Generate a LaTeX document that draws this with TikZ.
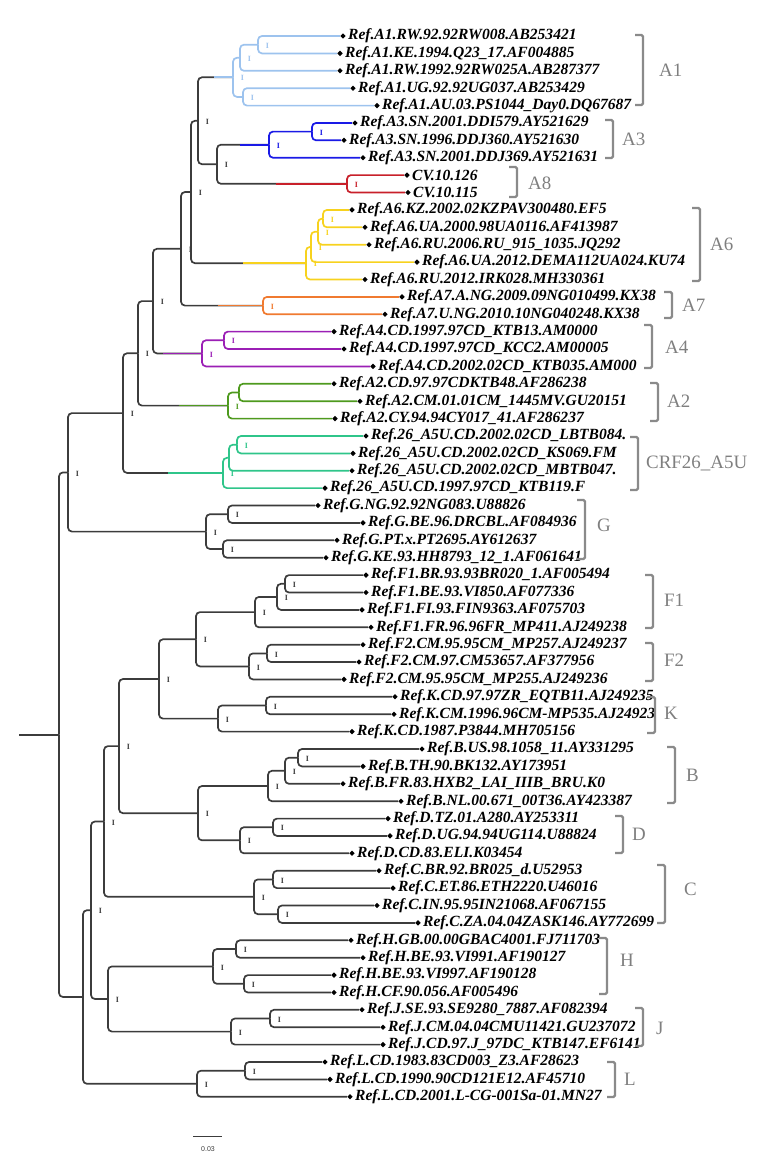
\documentclass[tikz,border=0pt]{standalone}
\usepackage{fontspec}
\setmainfont{Liberation Serif}
\newfontfamily\leaffont{Liberation Serif}
\newfontfamily\sbfont{Liberation Sans}
\usetikzlibrary{shapes.geometric,calc}
\definecolor{tgray}{HTML}{3C3C3C}
\definecolor{lgray}{HTML}{7F7F7F}
\definecolor{bgray}{HTML}{8A8A8A}
\definecolor{cA1}{HTML}{9DC3EE}
\definecolor{cA3}{HTML}{1A1AE6}
\definecolor{cA8}{HTML}{C8202A}
\definecolor{cA6}{HTML}{F7D21E}
\definecolor{cA7}{HTML}{F07A30}
\definecolor{cA4}{HTML}{9B1FB5}
\definecolor{cA2}{HTML}{4E9A1E}
\definecolor{cC26}{HTML}{2FC58A}
\tikzset{
 branch/.style={line width=1.7bp, rounded corners=4bp, draw=#1},
 branch/.default=tgray,
 leafdot/.style={diamond, fill=black, draw=none, inner sep=0pt, minimum size=5.5bp},
 leaflab/.style={anchor=west, inner sep=0pt, font=\leaffont\bfseries\itshape\fontsize{15.6}{16}\selectfont},
 cladelab/.style={anchor=west, inner sep=0pt, text=lgray, font=\fontsize{19}{19}\selectfont},
 boot/.style={inner sep=0pt, font=\bfseries\fontsize{8}{8}\selectfont, text=#1},
 boot/.default=tgray,
 bracket/.style={draw=bgray, line width=2.4bp, rounded corners=1.5bp},
}
\newcommand\lf[4]{\node[leafdot] (#1) at (#2,#3) {}; \node[leaflab] (#1t) at ([xshift=2bp]#1.east) {#4};}
\newcommand\ed[3][tgray]{\draw[branch=#1] (#2) |- (#3);}
\newcommand\stem[4][0.45]{\draw[branch] (#2) |- (#3); \coordinate (#2#3m) at ($(#2)!#1!(#3)$); \draw[branch=#4] (#2#3m |- #3) -- (#3);}
\newcommand\bs[2][tgray]{\node[boot=#1] (b#2) at ([xshift=9.5bp,yshift=-1bp]#2) {I};}
\newcommand\brk[7]{\draw[bracket] (#1-8,#2) -- (#1,#2) -- (#1,#3) -- (#1-8,#3); \node[cladelab] (#6) at (#4,#5) {#7};}
\begin{document}
\begin{tikzpicture}[x=1bp,y=-1bp]
\useasboundingbox (0,0) rectangle (772,1159);
% ---------- leaves
\lf{L1}{343}{36.0}{Ref.A1.RW.92.92RW008.AB253421}
\lf{L2}{340}{53.4}{Ref.A1.KE.1994.Q23\_17.AF004885}
\lf{L3}{340}{70.8}{Ref.A1.RW.1992.92RW025A.AB287377}
\lf{L4}{353}{88.2}{Ref.A1.UG.92.92UG037.AB253429}
\lf{L5}{377}{105.6}{Ref.A1.AU.03.PS1044\_Day0.DQ67687}
\lf{L6}{355}{123.0}{Ref.A3.SN.2001.DDI579.AY521629}
\lf{L7}{344}{140.3}{Ref.A3.SN.1996.DDJ360.AY521630}
\lf{L8}{363}{157.7}{Ref.A3.SN.2001.DDJ369.AY521631}
\lf{L9}{407}{175.1}{CV.10.126}
\lf{L10}{408}{192.5}{CV.10.115}
\lf{L11}{352}{209.9}{Ref.A6.KZ.2002.02KZPAV300480.EF5}
\lf{L12}{365}{227.3}{Ref.A6.UA.2000.98UA0116.AF413987}
\lf{L13}{369}{244.7}{Ref.A6.RU.2006.RU\_915\_1035.JQ292}
\lf{L14}{417}{262.1}{Ref.A6.UA.2012.DEMA112UA024.KU74}
\lf{L15}{365}{279.5}{Ref.A6.RU.2012.IRK028.MH330361}
\lf{L16}{402}{296.9}{Ref.A7.A.NG.2009.09NG010499.KX38}
\lf{L17}{385}{314.2}{Ref.A7.U.NG.2010.10NG040248.KX38}
\lf{L18}{334}{331.6}{Ref.A4.CD.1997.97CD\_KTB13.AM0000}
\lf{L19}{344}{349.0}{Ref.A4.CD.1997.97CD\_KCC2.AM00005}
\lf{L20}{373}{366.4}{Ref.A4.CD.2002.02CD\_KTB035.AM000}
\lf{L21}{334}{383.8}{Ref.A2.CD.97.97CDKTB48.AF286238}
\lf{L22}{360}{401.2}{Ref.A2.CM.01.01CM\_1445MV.GU20151}
\lf{L23}{335}{418.6}{Ref.A2.CY.94.94CY017\_41.AF286237}
\lf{L24}{366}{436.0}{Ref.26\_A5U.CD.2002.02CD\_LBTB084.}
\lf{L25}{353}{453.4}{Ref.26\_A5U.CD.2002.02CD\_KS069.FM}
\lf{L26}{352}{470.8}{Ref.26\_A5U.CD.2002.02CD\_MBTB047.}
\lf{L27}{325}{488.1}{Ref.26\_A5U.CD.1997.97CD\_KTB119.F}
\lf{L28}{318}{505.5}{Ref.G.NG.92.92NG083.U88826}
\lf{L29}{363}{522.9}{Ref.G.BE.96.DRCBL.AF084936}
\lf{L30}{337}{540.3}{Ref.G.PT.x.PT2695.AY612637}
\lf{L31}{326}{557.7}{Ref.G.KE.93.HH8793\_12\_1.AF061641}
\lf{L32}{366}{575.1}{Ref.F1.BR.93.93BR020\_1.AF005494}
\lf{L33}{366}{592.5}{Ref.F1.BE.93.VI850.AF077336}
\lf{L34}{362}{609.9}{Ref.F1.FI.93.FIN9363.AF075703}
\lf{L35}{371}{627.3}{Ref.F1.FR.96.96FR\_MP411.AJ249238}
\lf{L36}{363}{644.7}{Ref.F2.CM.95.95CM\_MP257.AJ249237}
\lf{L37}{359}{662.0}{Ref.F2.CM.97.CM53657.AF377956}
\lf{L38}{344}{679.4}{Ref.F2.CM.95.95CM\_MP255.AJ249236}
\lf{L39}{395}{696.8}{Ref.K.CD.97.97ZR\_EQTB11.AJ249235}
\lf{L40}{394}{714.2}{Ref.K.CM.1996.96CM-MP535.AJ24923}
\lf{L41}{352}{731.6}{Ref.K.CD.1987.P3844.MH705156}
\lf{L42}{422}{749.0}{Ref.B.US.98.1058\_11.AY331295}
\lf{L43}{363}{766.4}{Ref.B.TH.90.BK132.AY173951}
\lf{L44}{343}{783.8}{Ref.B.FR.83.HXB2\_LAI\_IIIB\_BRU.K0}
\lf{L45}{401}{801.2}{Ref.B.NL.00.671\_00T36.AY423387}
\lf{L46}{388}{818.6}{Ref.D.TZ.01.A280.AY253311}
\lf{L47}{390}{835.9}{Ref.D.UG.94.94UG114.U88824}
\lf{L48}{352}{853.3}{Ref.D.CD.83.ELI.K03454}
\lf{L49}{379}{870.7}{Ref.C.BR.92.BR025\_d.U52953}
\lf{L50}{393}{888.1}{Ref.C.ET.86.ETH2220.U46016}
\lf{L51}{377}{905.5}{Ref.C.IN.95.95IN21068.AF067155}
\lf{L52}{418}{922.9}{Ref.C.ZA.04.04ZASK146.AY772699}
\lf{L53}{351}{940.3}{Ref.H.GB.00.00GBAC4001.FJ711703}
\lf{L54}{363}{957.7}{Ref.H.BE.93.VI991.AF190127}
\lf{L55}{334}{975.1}{Ref.H.BE.93.VI997.AF190128}
\lf{L56}{334}{992.5}{Ref.H.CF.90.056.AF005496}
\lf{L57}{362}{1009.8}{Ref.J.SE.93.SE9280\_7887.AF082394}
\lf{L58}{383}{1027.2}{Ref.J.CM.04.04CMU11421.GU237072}
\lf{L59}{383}{1044.6}{Ref.J.CD.97.J\_97DC\_KTB147.EF6141}
\lf{L60}{325}{1062.0}{Ref.L.CD.1983.83CD003\_Z3.AF28623}
\lf{L61}{330}{1079.4}{Ref.L.CD.1990.90CD121E12.AF45710}
\lf{L62}{350}{1096.8}{Ref.L.CD.2001.L-CG-001Sa-01.MN27}
% ---------- internal nodes (upper)
\coordinate (a1p) at (258,44.7);
\coordinate (a1q) at (240,57.75);
\coordinate (a1s) at (243,96.9);
\coordinate (a1r) at (233,77.3);
\coordinate (a3p) at (312,131.6);
\coordinate (a3r) at (269,144.7);
\coordinate (a8r) at (347,183.8);
\coordinate (a38) at (217,164.2);
\coordinate (u1) at (198,120.8);
\coordinate (a6p) at (323,218.6);
\coordinate (a6q) at (318,231.7);
\coordinate (a6s) at (311,246.9);
\coordinate (a6r) at (306,263.2);
\coordinate (u2) at (191,192.0);
\coordinate (a7r) at (263,305.6);
\coordinate (u3) at (181,248.8);
\coordinate (a4p) at (224,340.3);
\coordinate (a4r) at (202,353.4);
\coordinate (u4) at (153,301.1);
\coordinate (a2p) at (239,392.5);
\coordinate (a2r) at (228,405.6);
\coordinate (u5) at (138,353.3);
\coordinate (c26p) at (237,444.7);
\coordinate (c26q) at (229,457.8);
\coordinate (c26r) at (223,472.9);
\coordinate (u6) at (123,413.1);
\coordinate (gp) at (228,514.2);
\coordinate (gq) at (223,549.0);
\coordinate (gr) at (206,531.6);
\coordinate (u7) at (68,472.4);
% ---------- internal nodes (lower)
\coordinate (f1p) at (285,583.8);
\coordinate (f1q) at (277,596.9);
\coordinate (f1r) at (255,612.1);
\coordinate (f2p) at (267,653.4);
\coordinate (f2r) at (249,666.4);
\coordinate (f12) at (196,639.3);
\coordinate (kp) at (266,705.5);
\coordinate (kr) at (218,718.6);
\coordinate (n5) at (159,679.0);
\coordinate (bp) at (298,757.7);
\coordinate (bq) at (285,770.8);
\coordinate (br) at (268,786.0);
\coordinate (dp) at (273,827.2);
\coordinate (dr) at (240,840.3);
\coordinate (bd) at (198,813.2);
\coordinate (n4) at (119,746.1);
\coordinate (cp) at (273,879.4);
\coordinate (cq) at (278,914.2);
\coordinate (cr) at (254,896.8);
\coordinate (n3) at (104,821.5);
\coordinate (hp) at (236,949.0);
\coordinate (hq) at (244,983.8);
\coordinate (hr) at (213,966.4);
\coordinate (jp) at (270,1018.5);
\coordinate (jr) at (231,1031.6);
\coordinate (hj) at (108,999.0);
\coordinate (m2) at (91,910.2);
\coordinate (lp) at (245,1070.7);
\coordinate (lr) at (197,1083.8);
\coordinate (lw) at (83,997.0);
\coordinate (rn) at (59,734.7);
\coordinate (rs) at (19,734.7);
% ---------- edges upper
\stem{u1}{a1r}{cA1} \ed{u1}{a38}
\stem{a38}{a3r}{cA3} \stem{a38}{a8r}{cA8}
\ed{u2}{u1} \stem{u2}{a6r}{cA6}
\ed{u3}{u2} \stem{u3}{a7r}{cA7}
\ed{u4}{u3} \stem[0.2]{u4}{a4r}{cA4}
\ed{u5}{u4} \stem{u5}{a2r}{cA2}
\ed{u6}{u5} \stem{u6}{c26r}{cC26}
\ed{u7}{u6} \ed{u7}{gr}
\ed[cA1]{a1p}{L1} \ed[cA1]{a1p}{L2}
\ed[cA1]{a1q}{a1p} \ed[cA1]{a1q}{L3}
\ed[cA1]{a1s}{L4} \ed[cA1]{a1s}{L5}
\ed[cA1]{a1r}{a1q} \ed[cA1]{a1r}{a1s}
\ed[cA3]{a3p}{L6} \ed[cA3]{a3p}{L7}
\ed[cA3]{a3r}{a3p} \ed[cA3]{a3r}{L8}
\ed[cA8]{a8r}{L9} \ed[cA8]{a8r}{L10}
\ed[cA6]{a6p}{L11} \ed[cA6]{a6p}{L12}
\ed[cA6]{a6q}{a6p} \ed[cA6]{a6q}{L13}
\ed[cA6]{a6s}{a6q} \ed[cA6]{a6s}{L14}
\ed[cA6]{a6r}{a6s} \ed[cA6]{a6r}{L15}
\ed[cA7]{a7r}{L16} \ed[cA7]{a7r}{L17}
\ed[cA4]{a4p}{L18} \ed[cA4]{a4p}{L19}
\ed[cA4]{a4r}{a4p} \ed[cA4]{a4r}{L20}
\ed[cA2]{a2p}{L21} \ed[cA2]{a2p}{L22}
\ed[cA2]{a2r}{a2p} \ed[cA2]{a2r}{L23}
\ed[cC26]{c26p}{L24} \ed[cC26]{c26p}{L25}
\ed[cC26]{c26q}{c26p} \ed[cC26]{c26q}{L26}
\ed[cC26]{c26r}{c26q} \ed[cC26]{c26r}{L27}
\ed{gp}{L28} \ed{gp}{L29} \ed{gq}{L30} \ed{gq}{L31}
\ed{gr}{gp} \ed{gr}{gq}
% ---------- edges lower
\ed{f1p}{L32} \ed{f1p}{L33} \ed{f1q}{f1p} \ed{f1q}{L34} \ed{f1r}{f1q} \ed{f1r}{L35}
\ed{f2p}{L36} \ed{f2p}{L37} \ed{f2r}{f2p} \ed{f2r}{L38}
\ed{f12}{f1r} \ed{f12}{f2r}
\ed{kp}{L39} \ed{kp}{L40} \ed{kr}{kp} \ed{kr}{L41}
\ed{n5}{f12} \ed{n5}{kr}
\ed{bp}{L42} \ed{bp}{L43} \ed{bq}{bp} \ed{bq}{L44} \ed{br}{bq} \ed{br}{L45}
\ed{dp}{L46} \ed{dp}{L47} \ed{dr}{dp} \ed{dr}{L48}
\ed{bd}{br} \ed{bd}{dr}
\ed{n4}{n5} \ed{n4}{bd}
\ed{cp}{L49} \ed{cp}{L50} \ed{cq}{L51} \ed{cq}{L52} \ed{cr}{cp} \ed{cr}{cq}
\ed{n3}{n4} \ed{n3}{cr}
\ed{hp}{L53} \ed{hp}{L54} \ed{hq}{L55} \ed{hq}{L56} \ed{hr}{hp} \ed{hr}{hq}
\ed{jp}{L57} \ed{jp}{L58} \ed{jr}{jp} \ed{jr}{L59}
\ed{hj}{hr} \ed{hj}{jr}
\ed{m2}{n3} \ed{m2}{hj}
\ed{lp}{L60} \ed{lp}{L61} \ed{lr}{lp} \ed{lr}{L62}
\ed{lw}{m2} \ed{lw}{lr}
\ed{rn}{u7} \ed{rn}{lw}
\draw[branch] (rs) -- (rn);
% ---------- bootstrap marks
\bs[cA1]{a1p} \bs[cA1]{a1q} \bs[cA1]{a1r} \bs[cA1]{a1s}
\bs{u1} \bs{a38} \bs[cA3]{a3r} \bs[cA3]{a3p} \bs[cA8]{a8r}
\bs{u2} \bs{u3} \bs[cA7]{a7r} \bs{u4} \bs[cA4]{a4p} \bs[cA4]{a4r}
\bs{u5} \bs[cA2]{a2r} \bs[cC26]{c26p} \bs[cC26]{c26r} \bs{u6} \bs{u7}
\bs[cA6]{a6p} \bs[cA6]{a6q} \bs[cA6]{a6s} \bs[cA6]{a6r}
\bs{gp} \bs{gq} \bs{gr}
\bs{f1p} \bs{f1q} \bs{f1r} \bs{f2p} \bs{f2r} \bs{f12}
\bs{kp} \bs{kr} \bs{n5}
\bs{bp} \bs{bq} \bs{br} \bs{dp} \bs{dr} \bs{bd} \bs{n4}
\bs{cp} \bs{cq} \bs{cr} \bs{n3}
\bs{hp} \bs{hq} \bs{hr} \bs{jp} \bs{jr} \bs{hj} \bs{m2}
\bs{lp} \bs{lr}
% ---------- clade brackets
\brk{643}{35}{105}{659}{70}{kA1}{A1}
\brk{613}{120}{158}{622}{139}{kA3}{A3}
\brk{517}{167}{197}{528}{183}{kA8}{A8}
\brk{700}{208}{281}{710}{244}{kA6}{A6}
\brk{672}{292}{318}{682}{305}{kA7}{A7}
\brk{652}{325}{368}{665}{347}{kA4}{A4}
\brk{658}{383}{421}{667}{401}{kA2}{A2}
\brk{638}{437}{490}{646}{463}{kC26}{CRF26\_A5U}
\brk{585}{500}{559}{597}{525}{kG}{G}
\brk{653}{575}{628}{664}{600}{kF1}{F1}
\brk{653}{643}{681}{664}{660}{kF2}{F2}
\brk{655}{697}{733}{664}{713}{kK}{K}
\brk{675}{747}{803}{686}{775}{kB}{B}
\brk{623}{816}{853}{632}{834}{kD}{D}
\brk{665}{865}{923}{684}{889}{kC}{C}
\brk{607}{938}{994}{620}{960}{kH}{H}
\brk{643}{1008}{1046}{656}{1028}{kJ}{J}
\brk{615}{1062}{1097}{624}{1079}{kL}{L}
% ---------- scale bar
\coordinate (sb1) at (193,1136);
\coordinate (sb2) at (222,1136);
\draw[line width=1bp, draw=tgray] (sb1) -- (sb2);
\node[inner sep=0pt, font=\sbfont\fontsize{7}{7}\selectfont, text=tgray] (sbt) at (208,1149) {0.03};
\end{tikzpicture}
\end{document}
